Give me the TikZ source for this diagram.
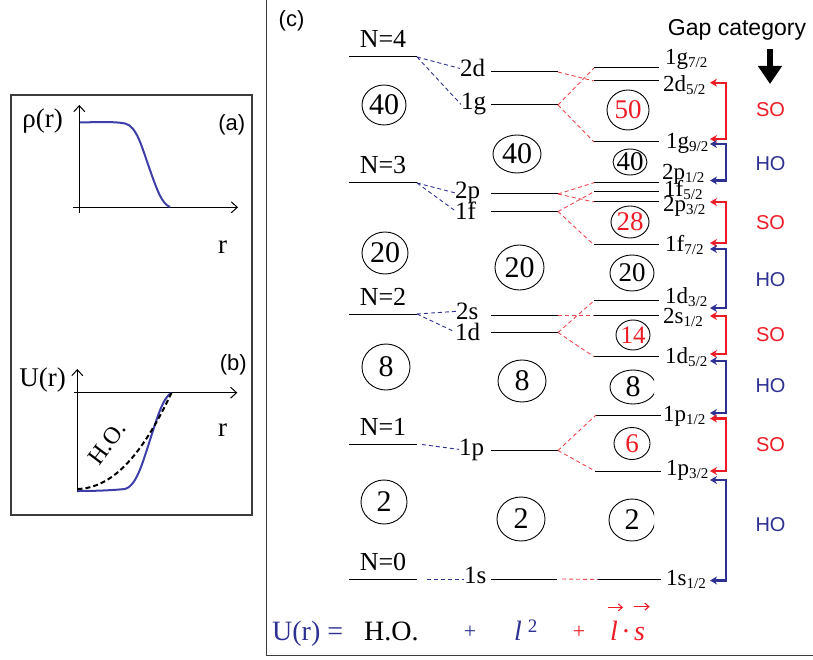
\documentclass[tikz,border=0pt]{standalone}
\usepackage{fontspec}
\setmainfont{Liberation Serif}
\newfontfamily\sansf{Liberation Sans}
\usetikzlibrary{arrows.meta,shapes.geometric,calc}
\definecolor{hoblue}{RGB}{46,49,146}
\definecolor{curveblue}{RGB}{62,62,168}
\definecolor{sored}{RGB}{237,28,36}
\definecolor{dashred}{RGB}{240,70,80}
\definecolor{framegray}{RGB}{60,60,60}
\newcommand\fLev{\fontsize{25}{25}\selectfont}
\newcommand\fNlab{\fontsize{26}{26}\selectfont}
\newcommand\fLevC{\fontsize{23}{23}\selectfont}
\newcommand\fNum{\fontsize{30}{30}\selectfont}
\newcommand\fNumC{\fontsize{27}{27}\selectfont}
\newcommand\fSans{\sansf\fontsize{20}{20}\selectfont}
\newcommand\fGap{\sansf\fontsize{23}{23}\selectfont}
\newcommand\fPanel{\sansf\fontsize{22}{22}\selectfont}
\newcommand\fAx{\fontsize{27}{27}\selectfont}
\newcommand\fEq{\fontsize{28}{28}\selectfont}
\newcommand\fPlus{\fontsize{22}{22}\selectfont}
\newcommand\jsub[1]{\raisebox{-3pt}{\fontsize{15}{15}\selectfont #1}}
\begin{document}
\begin{tikzpicture}[x=1pt,y=-1pt,
  lev/.style={line width=1pt},
  bdash/.style={hoblue, line width=0.9pt, dash pattern=on 4pt off 3pt},
  rdash/.style={dashred, line width=0.9pt, dash pattern=on 4pt off 3pt},
  circ/.style n args={2}{ellipse, draw, line width=0.9pt, inner sep=0pt, font=\fNum, minimum width=#1, minimum height=#2},
  circc/.style n args={2}{circ={#1}{#2}, font=\fNumC},
  lab/.style={anchor=base west, inner sep=0pt, font=\fLev},
  labc/.style={anchor=base west, inner sep=0pt, font=\fLevC},
  nlab/.style={anchor=base, inner sep=0pt, font=\fNlab},
  gaplab/.style={font=\fSans, inner sep=0pt},
  brk/.style={line width=2.3pt, {Stealth[length=7pt,width=8pt]}-{Stealth[length=7pt,width=8pt]}},
  axis/.style={line width=1pt, -{Straight Barb[length=6pt,width=11pt]}},
  frame/.style={framegray, line width=1.5pt},
]
\useasboundingbox (0,0) rectangle (813,660);

% ---------- frames ----------
\draw[frame] (11,95) rectangle (252,515);
\draw[frame] (266.5,0) -- (266.5,655.5) -- (813,655.5);

% ---------- panel (a) ----------
\coordinate (ay0) at (79.3,213); \coordinate (ay1) at (79.3,105);
\coordinate (ax0) at (73,207.3); \coordinate (ax1) at (238,207.3);
\draw[axis] (ay0) -- (ay1);
\draw[axis] (ax0) -- (ax1);
\draw[curveblue, line width=2pt] (80,122.5) .. controls (100,122) and (115,121.5) .. (125,123.5)
   .. controls (137,126) and (142,148) .. (150,170) .. controls (157,190) and (162,204) .. (170,207);
\node[font=\fAx] (rho) at (42.7,120.7) {ρ(r)};
\node[font=\fPanel] (pa) at (231.7,125) {(a)};
\node[font=\fAx] (ra) at (222.7,246.7) {r};

% ---------- panel (b) ----------
\coordinate (by0) at (77.3,492); \coordinate (by1) at (77.3,369);
\coordinate (bx0) at (74,392.7); \coordinate (bx1) at (237.3,392.7);
\draw[axis] (by0) -- (by1);
\draw[axis] (bx0) -- (bx1);
\draw[curveblue, line width=2pt] (77.5,491) .. controls (100,491) and (115,490) .. (125,489)
   .. controls (136,486) and (142,465) .. (150,440) .. controls (158,415) and (163,398) .. (171.5,392.7);
\draw[black, line width=2pt, dash pattern=on 5pt off 3pt] (77.5,489) .. controls (110,488) and (140,460) .. (171.5,392.7);
\node[font=\fAx] (ulab) at (42.7,380) {U(r)};
\node[font=\fPanel] (pb) at (233.3,365) {(b)};
\node[font=\fAx] (rb) at (222.7,430) {r};
\node[font=\fontsize{24}{24}\selectfont, rotate=53, inner sep=0pt] (hoc) at (107,443) {H.O.};

% ---------- panel (c) ----------
\node[font=\fPanel] (pc) at (291.5,21) {(c)};

% column 1: N shells
\draw[lev] (349,57) coordinate (N4l) -- (417,57) coordinate (N4r);
\draw[lev] (349,183) coordinate (N3l) -- (417,183) coordinate (N3r);
\draw[lev] (349,314) coordinate (N2l) -- (417,314) coordinate (N2r);
\draw[lev] (349,444) coordinate (N1l) -- (417,444) coordinate (N1r);
\draw[lev] (349,579) coordinate (N0l) -- (417,579) coordinate (N0r);
\node[nlab] (tN4) at (383,48) {N=4};
\node[nlab] (tN3) at (383,174) {N=3};
\node[nlab] (tN2) at (383,305) {N=2};
\node[nlab] (tN1) at (383,435) {N=1};
\node[nlab] (tN0) at (383,570) {N=0};
\node[circ={44pt}{40pt}] (c1n40) at (384,105) {40};
\node[circ={46pt}{42pt}] (c1n20) at (385,253) {20};
\node[circ={48pt}{46pt}] (c1n8) at (386,367) {8};
\node[circ={46pt}{44pt}] (c1n2) at (384,502) {2};

% column 2: l^2 levels
\draw[lev] (491,72) coordinate (c2dL) -- (558,72) coordinate (c2dR);
\draw[lev] (491,105) coordinate (c1gL) -- (558,105) coordinate (c1gR);
\draw[lev] (491,194) coordinate (c2pL) -- (558,194) coordinate (c2pR);
\draw[lev] (491,211.5) coordinate (c1fL) -- (558,211.5) coordinate (c1fR);
\draw[lev] (491,315) coordinate (c2sL) -- (558,315) coordinate (c2sR);
\draw[lev] (491,332.5) coordinate (c1dL) -- (558,332.5) coordinate (c1dR);
\draw[lev] (491,450.5) coordinate (c1pL) -- (558,450.5) coordinate (c1pR);
\draw[lev] (491,579) coordinate (c1sL) -- (557,579) coordinate (c1sR);
\node[lab] (l2d) at (460,77) {2d};
\node[lab] (l1g) at (461,110) {1g};
\node[lab] (l2p) at (455,198.5) {2p};
\node[lab] (l1f) at (455,219.5) {1f};
\node[lab] (l2s) at (456,319.5) {2s};
\node[lab] (l1d) at (455,340.5) {1d};
\node[lab] (l1p) at (459,455) {1p};
\node[lab] (l1s) at (464,583) {1s};
\node[circ={48pt}{38pt}] (c2n40) at (517,154) {40};
\node[circ={49pt}{45pt}] (c2n20) at (519.5,267.5) {20};
\node[circ={48pt}{42pt}] (c2n8) at (522,381) {8};
\node[circ={48pt}{44pt}] (c2n2) at (521,519) {2};

% blue dashed: N -> nl
\coordinate (N1d) at (422,444.5);
\coordinate (N0d) at (427,579);
\draw[bdash] (N4r) -- (l2d.west);
\draw[bdash] (N4r) -- (l1g.west);
\draw[bdash] (N3r) -- (l2p.west);
\draw[bdash] (N3r) -- (l1f.west);
\draw[bdash] (N2r) -- (l2s.west);
\draw[bdash] (N2r) -- (l1d.west);
\draw[bdash] (N1d) -- (l1p.west);
\draw[bdash] (N0d) -- (l1s.west |- N0d);

% column 3: spin-orbit levels
\draw[lev] (594,68) coordinate (g7L) -- (659,68) coordinate (g7R);
\draw[lev] (594,81) coordinate (d5L) -- (659,81) coordinate (d5R);
\draw[lev] (594,142) coordinate (g9L) -- (659,142) coordinate (g9R);
\draw[lev] (594,182.7) coordinate (p1aL) -- (659,182.7) coordinate (p1aR);
\draw[lev] (594,191.7) coordinate (f5L) -- (659,191.7) coordinate (f5R);
\draw[lev] (594,202) coordinate (p3aL) -- (659,202) coordinate (p3aR);
\draw[lev] (594,245) coordinate (f7L) -- (659,245) coordinate (f7R);
\draw[lev] (594,300.7) coordinate (d3L) -- (659,300.7) coordinate (d3R);
\draw[lev] (594,315) coordinate (s1L) -- (659,315) coordinate (s1R);
\draw[lev] (594,356.7) coordinate (d5bL) -- (659,356.7) coordinate (d5bR);
\draw[lev] (596,415) coordinate (p1L) -- (661,415) coordinate (p1R);
\draw[lev] (595,471) coordinate (p3L) -- (661,471) coordinate (p3R);
\draw[lev] (598,579.5) coordinate (s1bL) -- (661,579.5) coordinate (s1bR);

\node[labc] (lg7) at (665,65) {1g\jsub{7/2}};
\node[labc] (ld5) at (663,91.5) {2d\jsub{5/2}};
\node[labc] (lg9) at (666,148.5) {1g\jsub{9/2}};
\node[labc] (lp1a) at (662,180) {2p\jsub{1/2}};
\node[labc] (lf5) at (664,196.5) {1f\jsub{5/2}};
\node[labc] (lp3a) at (663,211.5) {2p\jsub{3/2}};
\node[labc] (lf7) at (665,251.5) {1f\jsub{7/2}};
\node[labc] (ld3) at (665,303.5) {1d\jsub{3/2}};
\node[labc] (ls1) at (663,323.5) {2s\jsub{1/2}};
\node[labc] (ld5b) at (665,363.5) {1d\jsub{5/2}};
\node[labc] (lp1) at (663,421.5) {1p\jsub{1/2}};
\node[labc] (lp3) at (666,475.5) {1p\jsub{3/2}};
\node[labc] (ls1b) at (666,585) {1s\jsub{1/2}};

\node[circc={42pt}{40pt}, text=sored] (c3n50) at (628,110) {50};
\node[circc={34pt}{26pt}, inner sep=-2.5pt] (c3n40) at (630,162) {40};
\node[circc={38pt}{32pt}, text=sored, inner sep=-1pt] (c3n28) at (630,222) {28};
\node[circc={44pt}{36pt}] (c3n20) at (632,273) {20};
\node[circc={34pt}{30pt}, text=sored, inner sep=-1.5pt, font=\fontsize{25}{25}\selectfont] (c3n14) at (633,335) {14};
\node[circc={36pt}{32pt}, text=sored] (c3n6) at (632,443.5) {6};
\begin{scope}
  \clip (600,360) rectangle (654,545);
  \node[circ={46pt}{34pt}] (c3n8) at (633,387) {8};
  \node[circ={46pt}{42pt}] (c3n2) at (632,520) {2};
\end{scope}

% red dashed: nl -> nlj
\draw[rdash] (c2dR) -- (d5L);
\draw[rdash] (c1gR) -- (g7L);
\draw[rdash] (c1gR) -- (g9L);
\draw[rdash] (c2pR) -- (p1aL);
\draw[rdash] (c2pR) -- (p3aL);
\draw[rdash] (c1fR) -- (f5L);
\draw[rdash] (c1fR) -- (f7L);
\draw[rdash] (c2sR) -- (s1L);
\draw[rdash] (c1dR) -- (d3L);
\draw[rdash] (c1dR) -- (d5bL);
\draw[rdash] (c1pR) -- (p1L);
\draw[rdash] (c1pR) -- (p3L);
\draw[rdash] ([xshift=5pt]c1sR) -- (s1bL);

% gap category
\node[font=\fGap, anchor=base, inner sep=0pt] (gapt) at (737,36) {Gap category};
\coordinate (ga0) at (770,49); \coordinate (ga1) at (770,84);
\draw[line width=6.5pt, -{Triangle[length=18pt,width=23pt]}] (ga0) -- (ga1);

\coordinate (bx) at (726,0);
\coordinate (b1a) at (710,82.7); \coordinate (b1b) at (710,139);
\coordinate (b2a) at (710,144); \coordinate (b2b) at (710,180.5);
\coordinate (b3a) at (710,202); \coordinate (b3b) at (710,243);
\coordinate (b4a) at (710,249); \coordinate (b4b) at (710,308);
\coordinate (b5a) at (710,316); \coordinate (b5b) at (710,354);
\coordinate (b6a) at (710,361); \coordinate (b6b) at (710,413);
\coordinate (b7a) at (710,418.5); \coordinate (b7b) at (710,471);
\coordinate (b8a) at (710,480); \coordinate (b8b) at (710,580.5);
\draw[brk, sored] (b1a) -- (b1a -| bx) -- (b1b -| bx) -- (b1b);
\draw[brk, hoblue] (b2a) -- (b2a -| bx) -- (b2b -| bx) -- (b2b);
\draw[brk, sored] (b3a) -- (b3a -| bx) -- (b3b -| bx) -- (b3b);
\draw[brk, hoblue] (b4a) -- (b4a -| bx) -- (b4b -| bx) -- (b4b);
\draw[brk, sored] (b5a) -- (b5a -| bx) -- (b5b -| bx) -- (b5b);
\draw[brk, hoblue] (b6a) -- (b6a -| bx) -- (b6b -| bx) -- (b6b);
\draw[brk, sored] (b7a) -- (b7a -| bx) -- (b7b -| bx) -- (b7b);
\draw[brk, hoblue] (b8a) -- (b8a -| bx) -- (b8b -| bx) -- (b8b);

\node[gaplab, text=sored] (so1) at (770.5,110) {SO};
\node[gaplab, text=hoblue] (ho1) at (770.5,163.3) {HO};
\node[gaplab, text=sored] (so2) at (770.5,222.7) {SO};
\node[gaplab, text=hoblue] (ho2) at (770.5,280) {HO};
\node[gaplab, text=sored] (so3) at (770.5,335) {SO};
\node[gaplab, text=hoblue] (ho3) at (770.5,385.7) {HO};
\node[gaplab, text=sored] (so4) at (770.5,445) {SO};
\node[gaplab, text=hoblue] (ho4) at (770.5,525) {HO};

% ---------- bottom formula ----------
\node[font=\fEq, text=hoblue, anchor=base west, inner sep=0pt] (eqU) at (272,640) {U(r) =};
\node[font=\fEq, anchor=base west, inner sep=0pt] (eqHO) at (364,640) {H.O.};
\node[font=\fPlus, text=hoblue, anchor=base, inner sep=0pt] (eqp1) at (470,638) {+};
\node[font=\fEq, text=hoblue, anchor=base west, inner sep=0pt] (eql2) at (514,640) {\itshape l\hspace{6pt}\raisebox{8pt}{\upshape\fontsize{19}{19}\selectfont 2}};
\node[font=\fPlus, text=sored, anchor=base, inner sep=0pt] (eqp2) at (579,638) {+};
\node[font=\fEq, text=sored, anchor=base west, inner sep=0pt] (eqlv) at (610,640) {\itshape l};
\node[font=\fEq, text=sored, anchor=base, inner sep=0pt] (eqdot) at (626,640) {·};
\node[font=\fEq, text=sored, anchor=base west, inner sep=0pt] (eqsv) at (634,640) {\itshape s};
\draw[sored, line width=1.1pt, -{Straight Barb[length=4pt,width=7pt]}] ($(eqlv.north)+(-6,-13)$) -- ++(15,0);
\draw[sored, line width=1.1pt, -{Straight Barb[length=4pt,width=7pt]}] ($(eqsv.north)+(-6,-20)$) -- ++(16,0);
\end{tikzpicture}
\end{document}
